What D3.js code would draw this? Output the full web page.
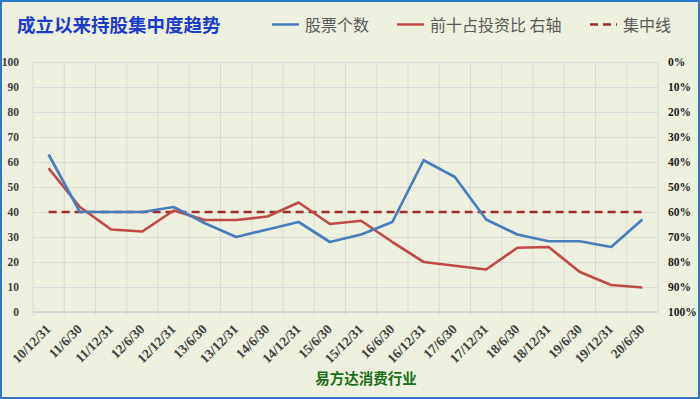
<!DOCTYPE html>
<html>
<head>
<meta charset="utf-8">
<script src="https://cdn.jsdelivr.net/npm/d3@7"></script>
<style>
  html, body { margin: 0; padding: 0; }
  body { width: 700px; height: 399px; overflow: hidden; }
  svg { display: block; }
</style>
</head>
<body>
<svg id="chart" width="700" height="399"></svg>
<script>
// ====== data ======
var categories = ["10/12/31","11/6/30","11/12/31","12/6/30","12/12/31","13/6/30","13/12/31","14/6/30","14/12/31","15/6/30",
                  "15/12/31","16/6/30","16/12/31","17/6/30","17/12/31","18/6/30","18/12/31","19/6/30","19/12/31","20/6/30"];
// 股票个数 (left axis)
var stockCount = [63, 40, 40, 40, 42, 35.5, 30, 33, 36, 28, 31, 36, 60.7, 54, 37, 31, 28.3, 28.3, 26, 37];
// 前十占投资比 (right axis, %)
var top10Pct = [42.5, 58, 67, 67.8, 59.4, 63.2, 63.2, 61.8, 56.2, 64.8, 63.5, 72, 80, 81.5, 83, 74.3, 74, 84, 89.2, 90.2];
// 集中线
var concLine = 40;
var leftTicks = [0, 10, 20, 30, 40, 50, 60, 70, 80, 90, 100];
var rightTicks = [0, 10, 20, 30, 40, 50, 60, 70, 80, 90, 100];
var legendItems = ["股票个数", "前十占投资比 右轴", "集中线"];
var titleText = "成立以来持股集中度趋势";
var bottomTitle = "易方达消费行业";
//=====================================

var svg = d3.select("#chart");
var W = 700, H = 399;
var margin = { top: 62, right: 42, bottom: 87, left: 33 };
var innerW = W - margin.left - margin.right;
var innerH = H - margin.top - margin.bottom;

var blue = "#4a7ebb", red = "#be4b48", darkRed = "#9b2d2b";
var numFont = "'Liberation Serif', 'DejaVu Serif', serif";
var cjkFont = "'Noto Sans CJK SC', sans-serif";

// background + border
svg.append("rect").attr("x", 1).attr("y", 1).attr("width", W - 2).attr("height", H - 2)
  .attr("fill", "#edf0df").attr("stroke", "#2f78c4").attr("stroke-width", 2);

var g = svg.append("g").attr("transform", `translate(${margin.left},${margin.top})`);

// scales
var x = d3.scaleBand().domain(categories).range([0, innerW]).paddingInner(0).paddingOuter(0);
var xc = d => x(d) + x.bandwidth() / 2;
var y = d3.scaleLinear().domain([0, 100]).range([innerH, 0]);
var yR = d3.scaleLinear().domain([0, 100]).range([0, innerH]);

// horizontal grid
g.append("g")
  .call(d3.axisLeft(y).tickValues(leftTicks).tickSize(-innerW).tickFormat(""))
  .call(a => a.select(".domain").remove())
  .call(a => a.selectAll(".tick line").attr("stroke", "#d9d9d9").attr("stroke-width", 1));

// vertical grid at category boundaries
var bounds = categories.map(c => x(c)).concat([innerW]);
g.append("g").selectAll("line").data(bounds).join("line")
  .attr("x1", d => d).attr("x2", d => d)
  .attr("y1", 0).attr("y2", innerH + 4)
  .attr("stroke", "#d9d9d9").attr("stroke-width", 1);

// bottom axis line
g.append("line").attr("x1", 0).attr("x2", innerW).attr("y1", innerH).attr("y2", innerH)
  .attr("stroke", "#d0d0d0").attr("stroke-width", 1.5);

// left axis labels
g.append("g")
  .call(d3.axisLeft(y).tickValues(leftTicks).tickSize(0).tickPadding(14))
  .call(a => a.select(".domain").remove())
  .call(a => a.selectAll("text")
    .attr("font-family", numFont).attr("font-weight", "bold")
    .attr("font-size", "11.5px").attr("fill", "#404040"));

// right axis labels
g.append("g").attr("transform", `translate(${innerW},0)`)
  .call(d3.axisRight(yR).tickValues(rightTicks).tickSize(0).tickPadding(10).tickFormat(d => d + "%"))
  .call(a => a.select(".domain").remove())
  .call(a => a.selectAll("text")
    .attr("font-family", numFont).attr("font-weight", "bold")
    .attr("font-size", "11.5px").attr("fill", "#1a1a1a"));

// x labels, rotated
g.append("g").selectAll("text").data(categories).join("text")
  .attr("transform", d => `translate(${xc(d) + 3},${innerH + 18}) rotate(-45)`)
  .attr("text-anchor", "end")
  .attr("font-family", numFont).attr("font-weight", "bold")
  .attr("font-size", "13.5px").attr("fill", "#404040")
  .text(d => d);

// concentration line
g.append("line")
  .attr("x1", xc(categories[0])).attr("x2", xc(categories[categories.length - 1]))
  .attr("y1", y(concLine)).attr("y2", y(concLine))
  .attr("stroke", darkRed).attr("stroke-width", 2.5).attr("stroke-dasharray", "8,5");

// lines
var lineBlue = d3.line().x((d, i) => xc(categories[i])).y(d => y(d));
var lineRed = d3.line().x((d, i) => xc(categories[i])).y(d => yR(d));

g.append("path").datum(top10Pct)
  .attr("d", lineRed).attr("fill", "none")
  .attr("stroke", red).attr("stroke-width", 2.7).attr("stroke-linejoin", "round");

g.append("path").datum(stockCount)
  .attr("d", lineBlue).attr("fill", "none")
  .attr("stroke", blue).attr("stroke-width", 2.7).attr("stroke-linejoin", "round");

// title
svg.append("text").attr("x", 17).attr("y", 32)
  .attr("font-family", cjkFont).attr("font-weight", "bold")
  .attr("font-size", "18.5px").attr("fill", "#1c3cc8")
  .text(titleText);

// legend
var legendX = [272, 397, 590];
var leg = svg.append("g");
legendItems.forEach(function(name, i) {
  var lx = legendX[i];
  leg.append("line").attr("x1", lx).attr("x2", lx + 27).attr("y1", 24.5).attr("y2", 24.5)
    .attr("stroke", [blue, red, darkRed][i]).attr("stroke-width", 2.5)
    .attr("stroke-dasharray", i == 2 ? "8,5" : null);
  leg.append("text").attr("x", lx + 33).attr("y", 30.5)
    .attr("font-family", cjkFont).attr("font-size", "16px").attr("fill", "#595959")
    .text(name);
});

// bottom title
svg.append("text").attr("x", 366).attr("y", 384).attr("text-anchor", "middle")
  .attr("font-family", cjkFont).attr("font-weight", "bold")
  .attr("font-size", "14.5px").attr("fill", "#1a6e1a")
  .text(bottomTitle);
</script>
</body>
</html>
